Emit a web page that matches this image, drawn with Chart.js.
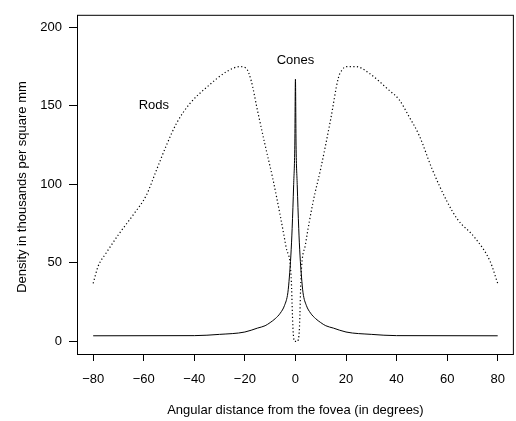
<!DOCTYPE html>
<html>
<head>
<meta charset="utf-8">
<script src="https://cdn.jsdelivr.net/npm/chart.js@4.4.1/dist/chart.umd.min.js"></script>
<style>
  html, body { margin: 0; padding: 0; background: #fff; }
  #wrap { width: 516px; height: 421px; }
</style>
</head>
<body>
<div id="wrap"><canvas id="retinaChart" width="516" height="421"></canvas></div>
<script>
// Densidade de bastonetes e cones (milhares por mm²) vs ângulo da fóvea
const rodAngles  = [-80, -78, -75, -70, -64, -59, -55, -51, -47, -42, -35, -27, -22, -19.5, -17.5, -15, -12, -9, -6, -3.7, -1.7, -1, -0.6, -0.3,
                    0.8, 1.1, 1.6, 2.2, 4, 7, 10, 14, 17, 18.5, 20, 24, 29, 37, 41, 45, 49, 54, 60, 64, 71, 77, 80];
const rodDensity = [37, 48, 56, 68, 81, 93, 109, 125, 139, 151, 162, 172, 175, 174, 166, 147, 125, 104, 80, 60, 41, 9, 1, 0,
                    0, 1, 9, 41, 62, 89, 110, 142, 168, 173, 175, 175, 171, 160, 154, 143, 131, 110, 89, 78, 66, 51, 37];

const coneAngles  = [-80, -40, -30, -20, -15, -12, -10, -8, -6, -4.3, -3, -2.4, -1.8, -1.3, -0.7, -0.25, 0,
                     0.25, 0.7, 1.3, 1.8, 2.4, 3, 4.3, 6, 8, 10, 12, 15, 20, 30, 40, 80];
const coneDensity = [3.6, 3.7, 4.5, 6, 8.5, 10, 12, 14.5, 18, 23, 31, 41, 55, 72, 100, 125, 167,
                     125, 100, 72, 55, 41, 31, 23, 18, 14.5, 12, 10, 8.5, 6, 4.5, 3.7, 3.6];

const xTicks = [-80, -60, -40, -20, 0, 20, 40, 60, 80];
const yTicks = [0, 50, 100, 150, 200];

const fonte = { family: "'Liberation Sans', Arial, sans-serif", size: 13 };

function pontos(xs, ys) {
  return xs.map((x, i) => ({ x: x, y: ys[i] }));
}

// Caixa em volta do gráfico e rótulos "Rods" / "Cones"
const caixaPlugin = {
  id: 'caixa',
  afterDraw(chart) {
    const { ctx, chartArea: a, scales } = chart;
    ctx.save();
    ctx.strokeStyle = '#000';
    ctx.lineWidth = 1;
    ctx.strokeRect(a.left + 0.5, a.top + 0.5, a.right - a.left - 1, a.bottom - a.top);
    ctx.fillStyle = '#000';
    ctx.font = fonte.size + 'px ' + fonte.family;
    ctx.textAlign = 'center';
    ctx.textBaseline = 'middle';
    ctx.fillText('Rods', scales.x.getPixelForValue(-56), scales.y.getPixelForValue(150));
    ctx.fillText('Cones', scales.x.getPixelForValue(0), scales.y.getPixelForValue(179));
    // título do eixo y (um pouco abaixo do centro, como no original)
    ctx.translate(22, 187);
    ctx.rotate(-Math.PI / 2);
    ctx.fillText('Density in thousands per square mm', 0, 0);
    ctx.restore();
  }
};

const ctx = document.getElementById('retinaChart').getContext('2d');
const retinaChart = new Chart(ctx, {
  type: 'scatter',
  data: {
    datasets: [{
      label: 'Rods',
      data: pontos(rodAngles, rodDensity),
      showLine: true,
      borderColor: '#000',
      borderWidth: 1.2,
      borderDash: [1.2, 2.4],
      pointRadius: 0,
      cubicInterpolationMode: 'monotone'
    }, {
      label: 'Cones',
      data: pontos(coneAngles, coneDensity),
      showLine: true,
      borderColor: '#000',
      borderWidth: 1,
      pointRadius: 0,
      cubicInterpolationMode: 'monotone'
    }]
  },
  options: {
    responsive: false,
    animation: false,
    layout: { padding: { top: 10, right: 2, left: 0, bottom: 0 } },
    plugins: { legend: { display: false }, tooltip: { enabled: false } },
    scales: {
      x: {
        type: 'linear',
        min: -86.4,
        max: 86.4,
        afterFit: s => { s.height = 67; },
        afterBuildTicks: s => { s.ticks = xTicks.map(v => ({ value: v })); },
        grid: { drawOnChartArea: false, drawTicks: true, tickLength: 7, color: '#000' },
        border: { display: false },
        ticks: {
          color: '#000', font: fonte, padding: 11, maxRotation: 0,
          callback: v => (v < 0 ? '\u2212' + Math.abs(v) : String(v))
        },
        title: {
          display: true, text: 'Angular distance from the fovea (in degrees)',
          color: '#000', font: fonte, padding: { top: 0, bottom: 3 }
        }
      },
      y: {
        type: 'linear',
        min: -8,
        max: 208,
        afterFit: s => { s.width = 77; },
        afterBuildTicks: s => { s.ticks = yTicks.map(v => ({ value: v })); },
        grid: { drawOnChartArea: false, drawTicks: true, tickLength: 8, color: '#000' },
        border: { display: false },
        ticks: { color: '#000', font: fonte, padding: 7 },
        title: { display: false }
      }
    }
  },
  plugins: [caixaPlugin]
});
</script>
</body>
</html>
